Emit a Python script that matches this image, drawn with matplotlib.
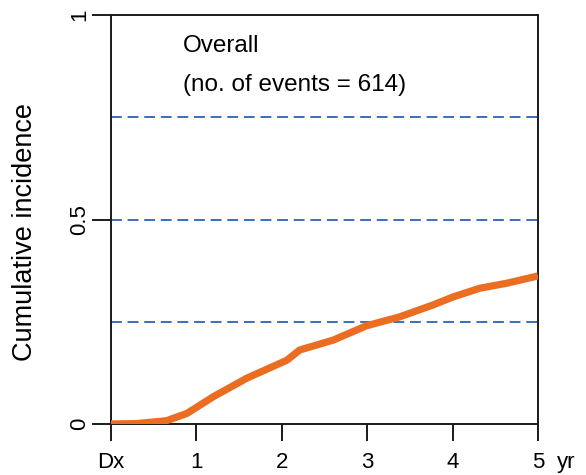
import matplotlib.pyplot as plt
import numpy as np

plt.rcParams['font.family'] = ['Liberation Sans', 'DejaVu Sans']

# cumulative incidence curve, years since diagnosis
years = [0, 0.3, 0.65, 0.89, 1.2, 1.59, 2.06, 2.21, 2.6, 2.99, 3.38, 3.77, 4.01, 4.32, 4.63, 5.0]
incidence = [0, 0.001, 0.008, 0.026, 0.067, 0.112, 0.156, 0.181, 0.205, 0.240, 0.262, 0.291, 0.311, 0.332, 0.344, 0.362]

ref_levels = [0.25, 0.5, 0.75]
xticks = [0, 1, 2, 3, 4, 5]
xlabels = ['Dx', '1', '2', '3', '4', '5']
yticks = [0, 0.5, 1]
ylabels = ['0', '0.5', '1']
n_events = 614

fig = plt.figure(figsize=(5.86, 4.75), dpi=100)
ax = fig.add_axes([111/586, 51/475, 427/586, 409/475])

for lvl in ref_levels:
    ax.axhline(lvl, color='#2A62B8', lw=1.3, dashes=(6, 3.2), zorder=1)

ax.plot(years, incidence, color='#EA6D22', lw=5.2, solid_capstyle='butt', zorder=3)

ax.set_xlim(0, 5)
ax.set_ylim(0, 1)
ax.set_xticks(xticks)
ax.set_xticklabels(xlabels)
ax.set_yticks(yticks)
ax.set_yticklabels(ylabels, rotation=90, va='center')

for s in ax.spines.values():
    s.set_linewidth(1.4)
    s.set_color('#1a1a1a')
ax.tick_params(axis='x', length=12, width=1.4, pad=8, labelsize=16, color='#1a1a1a')
ax.tick_params(axis='y', length=14, width=1.4, pad=1, labelsize=16, color='#1a1a1a')

ax.set_ylabel('Cumulative incidence', fontsize=19.5)
ax.yaxis.set_label_coords(-0.171, 0.469)
ax.text(5.22, -0.095, 'yr', fontsize=16, ha='left', va='center', clip_on=False)

ax.text(0.84, 0.924, 'Overall', fontsize=17.5, ha='left', va='center')
ax.text(0.84, 0.829, f'(no. of events = {n_events})', fontsize=17.5, ha='left', va='center')

fig.savefig('out.png', dpi=100)
